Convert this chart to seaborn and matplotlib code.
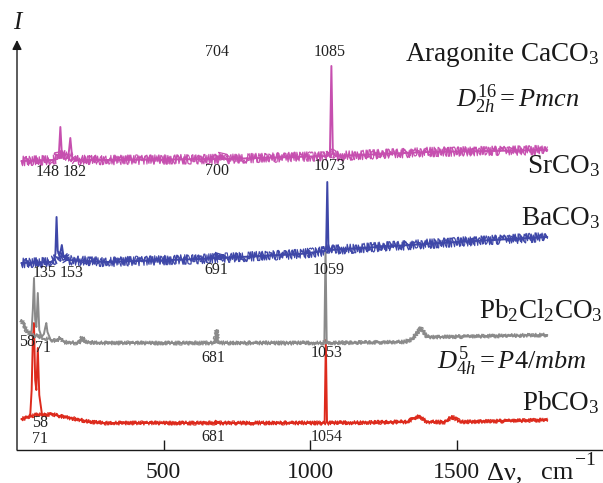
import matplotlib
matplotlib.use("Agg")
import matplotlib.pyplot as plt
import seaborn as sns
import pandas as pd

# Raman spectra, vertically offset (shift in cm^-1, intensity in arbitrary units)
sr_shift = [15, 120, 138, 143, 148, 153, 160, 172, 177, 182, 188, 200, 300, 690, 700, 710,
            1060, 1068, 1073, 1078, 1090, 1400, 1810]
sr_int = [289, 290, 291, 296, 323, 296, 291, 292, 298, 312, 293, 290, 290, 291, 295, 291,
          294, 296, 384, 296, 294, 298, 300]

ba_shift = [15, 115, 126, 131, 135, 139, 145, 149, 153, 158, 170, 300, 625, 684, 691, 698,
            966, 1050, 1055, 1059, 1063, 1070, 1500, 1810]
ba_int = [187, 188, 190, 196, 233, 199, 196, 199, 205, 195, 190, 188, 191, 192, 195, 192,
          196, 199, 201, 268, 201, 200, 208, 213]

pbcl_shift = [15, 25, 35, 45, 50, 54, 58, 62, 66, 71, 76, 84, 92, 96, 100, 104, 115, 135,
              148, 160, 200, 215, 222, 230, 300, 675, 681, 687, 1045, 1049, 1053, 1057,
              1061, 1320, 1350, 1378, 1400, 1450, 1810]
pbcl_int = [130, 124, 118, 116, 120, 140, 172, 130, 123, 157, 120, 113, 116, 122, 127, 118,
            110, 109, 112, 108, 107, 108, 113, 108, 107, 107, 120, 107, 107, 108, 203, 108,
            107, 108, 111, 122, 113, 113, 115]

pb_shift = [15, 30, 45, 50, 54, 58, 62, 66, 71, 76, 85, 100, 114, 130, 160, 200, 250, 300,
            675, 681, 687, 1045, 1050, 1054, 1058, 1063, 1330, 1369, 1400, 1460, 1486,
            1515, 1810]
pb_int = [31, 32, 34, 60, 110, 127, 70, 60, 102, 55, 36, 34, 37, 35, 33, 31, 28, 27,
          27, 28, 27, 27, 28, 110, 28, 27, 28, 34, 28, 28, 33, 28, 30]

# Peak labels: (text, shift, height)
sr_labels = [("148", 103, 278), ("182", 196, 278), ("700", 683, 279), ("1073", 1068, 284)]
arag_labels = [("704", 683, 398), ("1085", 1068, 398)]
ba_labels = [("135", 94, 177), ("153", 185, 177), ("691", 680, 180), ("1059", 1062, 180)]
pbcl_labels = [("58", 35, 108), ("71", 90, 102), ("681", 670, 92), ("1053", 1057, 97)]
pb_labels = [("58", 80, 27), ("71", 77, 11), ("681", 670, 13), ("1054", 1058, 13)]

tick_values = [500, 1000, 1500]

sns.set_theme(style="white")
plt.rcParams["font.family"] = ["Liberation Serif", "DejaVu Serif"]
plt.rcParams["mathtext.fontset"] = "custom"
plt.rcParams["mathtext.rm"] = "Liberation Serif"
plt.rcParams["mathtext.it"] = "Liberation Serif:italic"
plt.rcParams["mathtext.bf"] = "Liberation Serif:bold"

fig = plt.figure(figsize=(6.03, 4.83), dpi=100)
ax = fig.add_axes([17 / 603, 33 / 483, 586 / 603, 410 / 483])
ax.set_xlim(0, 2000)
ax.set_ylim(0, 410)

# (shift, intensity, colour, noise px, shift range of sharp lines kept out of the noise stroke)
spectra = [
    (pb_shift, pb_int, "#DD2A1C", 2.0, [(48, 80), (1048, 1060)]),
    (pbcl_shift, pbcl_int, "#8A8A8A", 2.0, [(48, 106), (1050, 1056)]),
    (ba_shift, ba_int, "#3E47A8", 4.8, [(130, 156), (1056, 1061)]),
    (sr_shift, sr_int, "#C64FAF", 4.8, [(144, 185), (1070, 1075)]),
]

for shift, inten, col, amp, sharp in spectra:
    df = pd.DataFrame({"shift": shift, "intensity": inten})
    sns.lineplot(data=df, x="shift", y="intensity", color=col, lw=1.4,
                 sort=False, estimator=None, ax=ax, legend=False)
    # detector noise: a jittered stroke along the baseline vertices
    keep = pd.Series(True, index=df.index)
    for lo, hi in sharp:
        keep &= ~df["shift"].between(lo, hi)
    base = df[keep]
    for lw, ln in ((0.9, 1.2), (0.8, 1.7)):
        sns.lineplot(data=base, x="shift", y="intensity", color=col, lw=lw,
                     sort=False, estimator=None, ax=ax, legend=False)
        ax.lines[-1].set_sketch_params(scale=amp, length=ln, randomness=2.5)

ax.set_xlabel("")
ax.set_ylabel("")

for group in (arag_labels, sr_labels, ba_labels, pbcl_labels, pb_labels):
    for txt, x, y in group:
        ax.text(x, y, txt, ha="center", va="center", fontsize=11.5, color="#222222",
                clip_on=False)

big = dict(fontsize=19.5, color="#1a1a1a", clip_on=False)
sym = dict(fontsize=19, color="#1a1a1a", clip_on=False)
ax.text(1985, 389, r"Aragonite CaCO$_3$", ha="right", va="baseline", **big)
ax.text(1920, 343, r"$D_{2h}^{16} = Pmcn$", ha="right", va="baseline", **sym)
ax.text(1988, 277, r"SrCO$_3$", ha="right", va="baseline", **big)
ax.text(1988, 225, r"BaCO$_3$", ha="right", va="baseline", **big)
ax.text(2000, 132, r"Pb$_2$Cl$_2$CO$_3$", ha="right", va="baseline", **big)
ax.text(1944, 81, r"$D_{4h}^{5} = P4/mbm$", ha="right", va="baseline", **sym)
ax.text(1988, 40, r"PbCO$_3$", ha="right", va="baseline", **big)

# axes: bottom spine with inward ticks, arrowed intensity axis
for side in ("top", "right", "left"):
    ax.spines[side].set_visible(False)
ax.spines["bottom"].set_color("#1a1a1a")
ax.spines["bottom"].set_linewidth(1.0)
ax.set_yticks([])
ax.set_xticks(tick_values)
ax.set_xticklabels([str(v) for v in tick_values], fontsize=17)
ax.tick_params(axis="x", direction="in", length=7, width=1, pad=9,
               colors="#1a1a1a", bottom=True)
ax.annotate("", xy=(0, 1.0), xytext=(0, 0), xycoords="axes fraction",
            arrowprops=dict(arrowstyle="-|>", lw=1.0, color="#1a1a1a",
                            mutation_scale=14, shrinkA=0, shrinkB=0))
ax.text(0.0, 1.042, "I", transform=ax.transAxes, ha="center", va="center",
        fontsize=18, style="italic", color="#1a1a1a")

# x-axis quantity and unit, set beside the last tick label
fig.text(487 / 603, 1 - 479 / 483, "Δν,", ha="left", va="baseline",
         fontsize=19, color="#1a1a1a")
fig.text(541 / 603, 1 - 479 / 483, "cm", ha="left", va="baseline",
         fontsize=19, color="#1a1a1a")
fig.text(575 / 603, 1 - 465 / 483, "\u22121", ha="left", va="baseline",
         fontsize=14, color="#1a1a1a")

fig.savefig("out.png", dpi=100)
